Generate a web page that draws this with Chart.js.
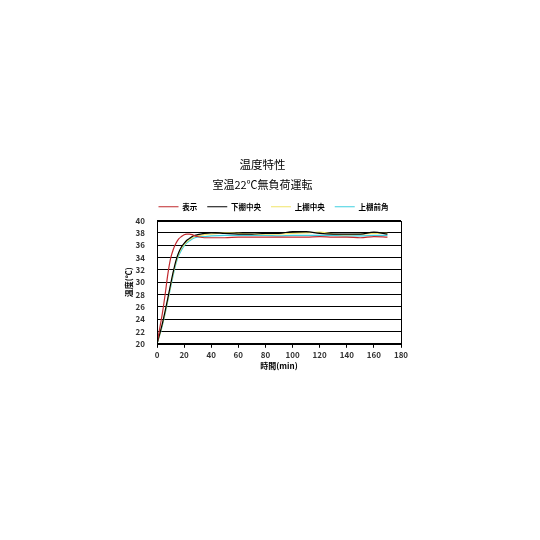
<!DOCTYPE html>
<html>
<head>
<meta charset="utf-8">
<script src="https://cdn.jsdelivr.net/npm/chart.js@4/dist/chart.umd.min.js"></script>
<style>
  html, body { margin: 0; padding: 0; background: #fff; }
  #wrap { position: absolute; left: 0; top: 0; width: 540px; height: 540px; }
</style>
</head>
<body>
<div id="wrap"><canvas id="tempChart"></canvas></div>
<script>
// time in minutes
const times = [0, 2, 4, 6, 8, 10, 12, 14, 16, 18, 20, 22, 24, 26, 28, 30, 35, 40, 50, 60, 70, 80, 90, 100, 110, 120, 130, 140, 150, 160, 170];

// temperatures (°C)
const display = [20, 22.5, 25.0, 28.0, 31.3, 33.8, 35.3, 36.3, 37.0, 37.4, 37.7, 37.8, 37.8, 37.7, 37.5, 37.4, 37.2, 37.2, 37.2, 37.3, 37.3, 37.3, 37.3, 37.3, 37.3, 37.4, 37.3, 37.3, 37.2, 37.4, 37.3];
const lowerCenter = [20, 21.6, 23.3, 25.3, 27.4, 29.6, 31.7, 33.5, 34.8, 35.7, 36.3, 36.8, 37.1, 37.4, 37.6, 37.7, 37.9, 38.0, 37.9, 37.8, 37.8, 37.9, 37.9, 38.2, 38.2, 37.9, 37.8, 37.8, 37.8, 38.1, 37.8];
const upperCenter = [20, 21.5, 23.2, 25.1, 27.2, 29.4, 31.5, 33.3, 34.6, 35.5, 36.1, 36.6, 36.9, 37.2, 37.4, 37.5, 37.7, 37.8, 38.0, 37.9, 37.8, 37.8, 37.8, 37.9, 38.0, 38.1, 37.8, 37.7, 37.8, 37.9, 37.9];
const upperFront = [20, 21.4, 23.0, 24.9, 27.0, 29.1, 31.2, 33.0, 34.3, 35.2, 35.9, 36.4, 36.7, 37.0, 37.2, 37.3, 37.4, 37.5, 37.6, 37.6, 37.6, 37.6, 37.5, 37.6, 37.6, 37.6, 37.6, 37.5, 37.5, 37.6, 37.6];

const seriesNames = ['表示', '下棚中央', '上棚中央', '上棚前角'];
const seriesColors = ['#c0282d', '#000000', '#f0e468', '#3fd0e0'];
const seriesValues = [display, lowerCenter, upperCenter, upperFront];

const font = '"Noto Sans CJK JP", "Noto Sans", sans-serif';

const datasets = seriesValues.map((vals, i) => ({
    label: seriesNames[i],
    data: vals.map((v, j) => ({ x: times[j], y: v })),
    borderColor: seriesColors[i],
    backgroundColor: seriesColors[i],
    borderWidth: 1.2,
    pointRadius: 0,
    cubicInterpolationMode: 'monotone',
    fill: false
}));

// draws the frame round the plot area, and nudges the legend over the plot
const frame = {
    id: 'frame',
    afterLayout(chart) {
        chart.legend.left += 11;
        chart.legend.right += 11;
    },
    afterDatasetsDraw(chart) {
        const a = chart.chartArea, ctx = chart.ctx;
        ctx.save();
        ctx.strokeStyle = '#000';
        ctx.lineWidth = 1;
        ctx.strokeRect(Math.round(a.left) + 0.5, Math.round(a.top) + 0.5, Math.round(a.right - a.left), Math.round(a.bottom - a.top));
        ctx.restore();
    }
};

const ctx = document.getElementById('tempChart').getContext('2d');
new Chart(ctx, {
    type: 'line',
    data: { datasets: datasets },
    options: {
        responsive: true,
        maintainAspectRatio: false,
        animation: false,
        layout: { padding: { left: 124, right: 139, top: 158, bottom: 169 } },
        plugins: {
            title: {
                display: true,
                text: '温度特性',
                color: '#000',
                font: { family: font, size: 11.5, weight: 'normal' },
                padding: { top: 0, bottom: 6 }
            },
            subtitle: {
                display: true,
                text: '室温22℃無負荷運転',
                color: '#000',
                font: { family: font, size: 11, weight: 'normal' },
                padding: { top: 0, bottom: 2 }
            },
            legend: {
                display: true,
                labels: {
                    color: '#000',
                    font: { family: font, size: 7.5, weight: 'bold' },
                    boxWidth: 20,
                    boxHeight: 1,
                    padding: 10,
                    generateLabels(chart) {
                        const items = Chart.defaults.plugins.legend.labels.generateLabels(chart);
                        items.forEach(it => { it.lineWidth = 0; });
                        return items;
                    }
                }
            },
            tooltip: { enabled: false }
        },
        scales: {
            x: {
                type: 'linear',
                min: 0,
                max: 180,
                ticks: {
                    stepSize: 20,
                    autoSkip: false,
                    color: '#333',
                    font: { family: font, size: 8, weight: 'bold' },
                    padding: 2,
                    maxRotation: 0
                },
                grid: {
                    color: 'rgba(0,0,0,0)',
                    tickColor: '#000',
                    tickLength: 4
                },
                border: { color: '#000' },
                title: {
                    display: true,
                    text: '時間(min)',
                    color: '#000',
                    font: { family: font, size: 8, weight: 'bold' },
                    padding: { top: 0, bottom: 0 }
                }
            },
            y: {
                min: 20,
                max: 40,
                afterFit(scale) { scale.width = 33; },
                ticks: {
                    stepSize: 2,
                    autoSkip: false,
                    color: '#333',
                    font: { family: font, size: 8, weight: 'bold' },
                    padding: 12
                },
                grid: {
                    color: '#000',
                    drawTicks: false
                },
                border: { color: '#000' },
                title: {
                    display: true,
                    text: '温度(℃)',
                    color: '#000',
                    font: { family: font, size: 8, weight: 'bold' },
                    padding: { top: 0, bottom: 2 }
                }
            }
        }
    },
    plugins: [frame]
});
</script>
</body>
</html>
